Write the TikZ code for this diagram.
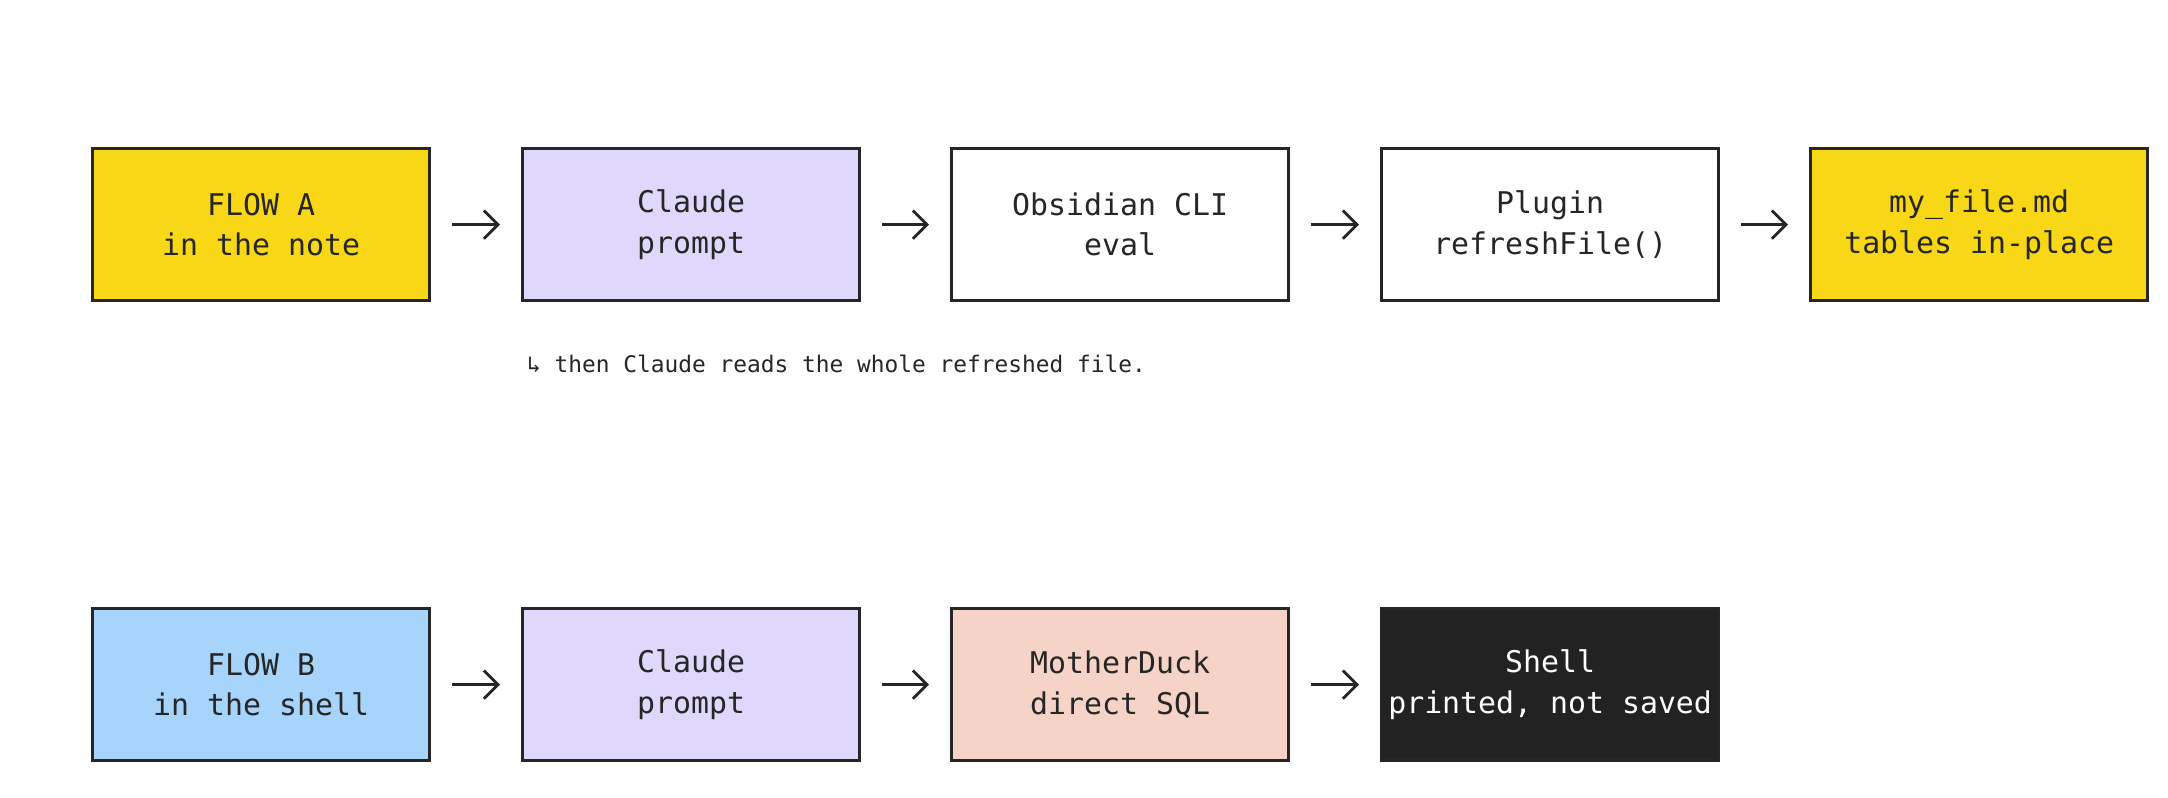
\documentclass[tikz,border=0pt]{standalone}
\usepackage{fontspec}
\setmainfont{DejaVu Sans Mono}
\begin{document}
\begin{tikzpicture}[x=0.02cm,y=-0.02cm,
  box/.style={draw=black!85,line width=1.6pt,minimum width=6.75cm,minimum height=3.05cm,inner sep=0pt,anchor=north west,align=center,font=\fontsize{17}{23}\selectfont,text=black!85},
  arr/.style={-{Straight Barb[length=8pt,width=16pt]},line width=1.6pt,black!85,shorten <=12pt,shorten >=12pt}]
\usetikzlibrary{arrows.meta}
\definecolor{yel}{HTML}{F7D716}
\definecolor{lav}{HTML}{E0D8FC}
\definecolor{sal}{HTML}{F6D3C7}
\definecolor{blu}{HTML}{A6D4FB}
\definecolor{drk}{HTML}{222222}
\useasboundingbox (0,0) rectangle (2168,798);
\fill[white] (0,0) rectangle (2168,798);
\node[box,fill=yel] (a1) at (91,147) {FLOW A\\in the note};
\node[box,fill=lav] (a2) at (521,147) {Claude\\prompt};
\node[box,fill=white] (a3) at (950,147) {Obsidian CLI\\eval};
\node[box,fill=white] (a4) at (1380,147) {Plugin\\refreshFile()};
\node[box,fill=yel] (a5) at (1809,147) {my\_file.md\\tables in-place};
\node[box,fill=blu] (b1) at (91,607) {FLOW B\\in the shell};
\node[box,fill=lav] (b2) at (521,607) {Claude\\prompt};
\node[box,fill=sal] (b3) at (950,607) {MotherDuck\\direct SQL};
\node[box,fill=drk] (b4) at (1380,607) {};
\begin{scope}
\clip (b4.north west) rectangle (b4.south east);
\node[align=center,text=white,font=\fontsize{17}{23}\selectfont] (b4t) at (b4.center) {Shell\\printed, not saved};
\end{scope}
\node[anchor=west,font=\fontsize{13}{16}\selectfont,text=black!85] (note) at (521,364) {↳ then Claude reads the whole refreshed file.};
\foreach \p/\q in {a1/a2,a2/a3,a3/a4,a4/a5,b1/b2,b2/b3,b3/b4} \draw[arr] (\p) -- (\q);
\end{tikzpicture}
\end{document}
